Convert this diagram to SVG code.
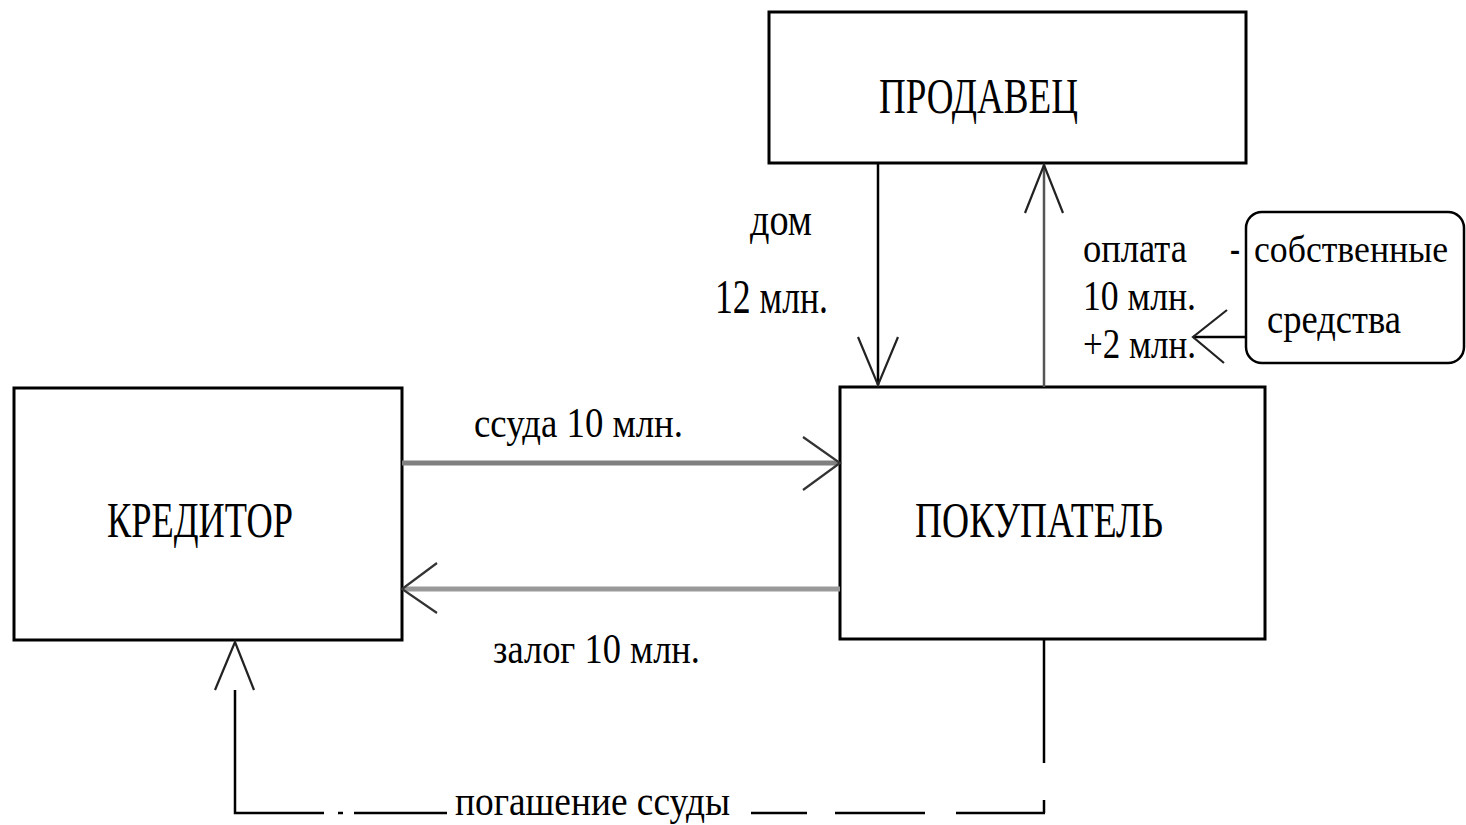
<svg xmlns="http://www.w3.org/2000/svg" width="1466" height="825" viewBox="0 0 1466 825">
<style>
.box{fill:#fff;stroke:#000;stroke-width:3}
.ln{fill:none;stroke:#000;stroke-width:2.5}
.gl{fill:none;stroke:#808080;stroke-width:5}
.ah{fill:none;stroke:#222;stroke-width:2.2}
text{font-family:"Liberation Serif","Times New Roman",serif;fill:#000}
.big{font-size:50px}
.lbl{font-size:42px}
</style>
<rect width="1466" height="825" fill="#fff"/>
<g id="node-prodavec">
<rect class="box" x="769" y="12" width="477" height="151"/>
<text class="big" x="879" y="113" textLength="199" lengthAdjust="spacingAndGlyphs">ПРОДАВЕЦ</text>
</g>
<g id="node-kreditor">
<rect class="box" x="14" y="388" width="388" height="252"/>
<text class="big" x="107" y="537" textLength="186" lengthAdjust="spacingAndGlyphs">КРЕДИТОР</text>
</g>
<g id="node-pokupatel">
<rect class="box" x="840" y="387" width="425" height="252"/>
<text class="big" x="915" y="537" textLength="248" lengthAdjust="spacingAndGlyphs">ПОКУПАТЕЛЬ</text>
</g>
<g id="node-sredstva">
<rect class="box" x="1246" y="212" width="218" height="151" rx="16" ry="16" style="stroke-width:2.5"/>
<text x="1254" y="262" textLength="194" lengthAdjust="spacingAndGlyphs" style="font-size:38px">собственные</text>
<text class="lbl" x="1267" y="333" textLength="134" lengthAdjust="spacingAndGlyphs">средства</text>
</g>
<g id="connectors">
<line class="ln" x1="878" y1="163" x2="878" y2="385"/>
<polyline class="ah" points="858,337 878,385 898,337"/>
<line class="ln" x1="1044" y1="387" x2="1044" y2="165" style="stroke:#555"/>
<polyline class="ah" points="1025,213 1044,165 1063,213"/>
<line class="ln" x1="1246" y1="337" x2="1193" y2="337"/>
<polyline class="ah" points="1227,310 1193,337 1224,363"/>
<line class="gl" x1="402" y1="463" x2="838" y2="463"/>
<polyline class="ah" points="803,437 840,463 803,490" style="stroke:#333"/>
<line class="gl" x1="840" y1="589" x2="404" y2="589" style="stroke:#999"/>
<polyline class="ah" points="437,563 402,589 437,613" style="stroke:#333"/>
<line class="ln" x1="1044" y1="640" x2="1044" y2="763"/>
<line class="ln" x1="1044" y1="800" x2="1044" y2="813"/>
<polyline class="ln" points="324,813 235,813 235,690"/>
<polyline class="ah" points="215,690 235,642 254,690"/>
<line class="ln" x1="338" y1="813" x2="343" y2="813"/>
<line class="ln" x1="354" y1="813" x2="447" y2="813"/>
<line class="ln" x1="751" y1="813" x2="807" y2="813"/>
<line class="ln" x1="835" y1="813" x2="925" y2="813"/>
<line class="ln" x1="956" y1="813" x2="1045" y2="813"/>
</g>
<g id="labels">
<text class="lbl" x="750" y="235" textLength="62" lengthAdjust="spacingAndGlyphs" style="font-size:46px">дом</text>
<text class="lbl" x="715" y="313" textLength="113" lengthAdjust="spacingAndGlyphs" style="font-size:48px">12 млн.</text>
<text class="lbl" x="1083" y="262" textLength="104" lengthAdjust="spacingAndGlyphs">оплата</text>
<text class="lbl" x="1230" y="262" textLength="10" lengthAdjust="spacingAndGlyphs">-</text>
<text class="lbl" x="1083" y="310" textLength="113" lengthAdjust="spacingAndGlyphs">10 млн.</text>
<text class="lbl" x="1083" y="358" textLength="113" lengthAdjust="spacingAndGlyphs">+2 млн.</text>
<text class="lbl" x="474" y="437" textLength="209" lengthAdjust="spacingAndGlyphs">ссуда 10 млн.</text>
<text class="lbl" x="493" y="663" textLength="207" lengthAdjust="spacingAndGlyphs">залог 10 млн.</text>
<text class="lbl" x="455" y="815" textLength="275" lengthAdjust="spacingAndGlyphs">погашение ссуды</text>
</g>
</svg>
